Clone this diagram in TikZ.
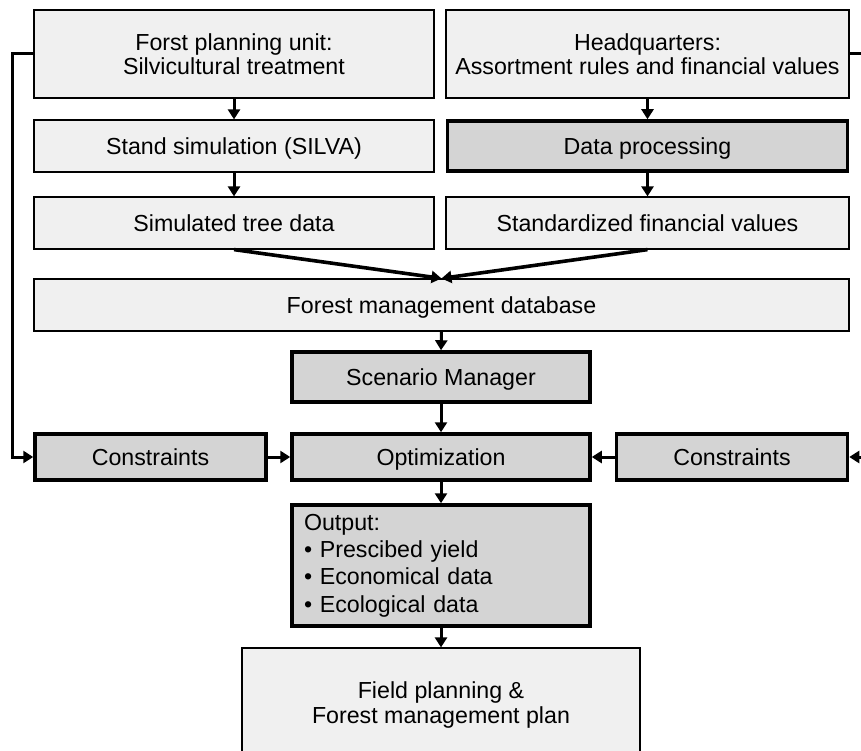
\documentclass[tikz,border=0pt]{standalone}
\usepackage{fontspec}
\setmainfont{Liberation Sans}
\usetikzlibrary{arrows.meta}
\definecolor{boxlight}{RGB}{240,240,240}
\definecolor{boxdark}{RGB}{212,212,212}

\begin{document}
\begin{tikzpicture}[x=1pt,y=-1pt,
    lightbox/.style={draw, line width=1.2pt, fill=boxlight, minimum height=52pt, align=center, inner sep=0pt},
    darkbox/.style={lightbox, fill=boxdark, line width=3.5pt},
    oneline/.style={text height=17pt, text depth=0.4pt},
    flow/.style={line width=3pt, -{Triangle[length=10pt,width=12pt]}},
    every node/.style={font=\fontsize{23.2}{24.5}\selectfont}]
    \useasboundingbox (0,0) rectangle (861,751);
    \clip (0,0) rectangle (861,751);
    %Inputs
        \node[lightbox, minimum width=400pt, minimum height=88pt] (fpu) at (234,54) {Forst planning unit:\\Silvicultural treatment};
        \node[lightbox, minimum width=403pt, minimum height=88pt] (hq) at (647.5,54) {Headquarters:\\Assortment rules and financial values};
        \node[lightbox, oneline, minimum width=400pt] (stand) at (234,146) {Stand simulation (SILVA)};
        \node[darkbox, oneline, minimum width=400pt, minimum height=50pt] (dp) at (647.5,146) {Data processing};
        \node[lightbox, oneline, minimum width=400pt] (sim) at (234,223) {Simulated tree data};
        \node[lightbox, oneline, minimum width=403pt] (std) at (647.5,223) {Standardized financial values};
        \node[lightbox, oneline, minimum width=815pt] (fmdb) at (441.5,305) {Forest management database};
    %Optimization
        \node[darkbox, oneline, minimum width=298pt, minimum height=50pt] (sm) at (441,377) {Scenario Manager};
        \node[darkbox, oneline, minimum width=231pt, minimum height=46pt] (cl) at (150.5,457) {Constraints};
        \node[darkbox, oneline, minimum width=298pt, minimum height=46pt] (opt) at (441,457) {Optimization};
        \node[darkbox, oneline, minimum width=231pt, minimum height=46pt] (cr) at (732,457) {Constraints};
        \node[darkbox, minimum width=298pt, minimum height=121pt, align=left, text width=274pt,
            font=\fontsize{23.2}{27.3}\selectfont] (out) at (441,565.5)
            {Output:\\• Prescibed yield\\• Economical data\\• Ecological data};
        \node[lightbox, minimum width=398pt, minimum height=114pt] (fp) at (441,705) {Field planning \&\\Forest management plan};
    %Arrows
        \draw[flow] (fpu.south) -- (stand.north);
        \draw[flow] (hq.south) -- (dp.north);
        \draw[flow] (stand.south) -- (sim.north);
        \draw[flow] (dp.south) -- (std.north);
        \draw[flow, line width=3.6pt] (sim.south) -- (fmdb.north);
        \draw[flow, line width=3.6pt] (std.south) -- (fmdb.north);
        \draw[flow] (fmdb.south) -- (sm.north);
        \draw[flow] (sm.south) -- (opt.north);
        \draw[flow] (cl.east) -- (opt.west);
        \draw[flow] (cr.west) -- (opt.east);
        \draw[flow] (opt.south) -- (out.north);
        \draw[flow] (out.south) -- (fp.north);
    %Feedback
        \draw[flow] (fpu.west) -- ++(-21,0) |- (cl.west);
        \draw[flow] (hq.east) -- ++(21,0) |- (cr.east);
\end{tikzpicture}
\end{document}
